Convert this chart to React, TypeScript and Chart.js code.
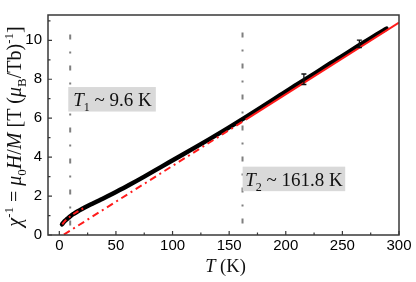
import React, { useEffect, useRef } from "react";
import { Chart, registerables } from "chart.js";
Chart.register(...registerables);

// ---- data ----
const temperature = [2.4, 3, 4, 6, 8, 10, 13, 16, 20, 25, 30, 36, 43, 50, 62, 75, 90, 106, 120, 133, 150, 165, 180, 195, 210, 225, 240, 255, 270, 280, 289];
const invChi = [0.55, 0.6, 0.67, 0.78, 0.88, 0.98, 1.1, 1.21, 1.34, 1.49, 1.63, 1.8, 2.0, 2.21, 2.58, 3.0, 3.5, 4.03, 4.5, 4.94, 5.53, 6.07, 6.62, 7.18, 7.74, 8.28, 8.84, 9.38, 9.93, 10.29, 10.6];

const lowFitT = [2.6, 5, 8, 11, 14, 17, 20, 23];
const lowFitY = [0.55, 0.72, 0.87, 1.01, 1.13, 1.23, 1.33, 1.42];

const cwExtrapT = [4, 165];
const cwExtrapY = [0.02, 5.94];
const cwFitT = [165, 300];
const cwFitY = [5.94, 10.91];

const errT = [216, 265];
const errY = [8.0, 9.82];
const errD = [0.27, 0.19];

const markerT = [9.6, 161.8];
const markerTop = [10.3, 10.4];

const labelIndex = ["1", "2"];
const labelText = [" ~ 9.6 K", " ~ 161.8 K"];
const labelAnchorT = [7.9, 161.9];
const labelAnchorY = [7.6, 3.51];

const xTickValues = [0, 50, 100, 150, 200, 250, 300];
const xMinorValues = [25, 75, 125, 175, 225, 275];
const yTickValues = [0, 2, 4, 6, 8, 10];
const yMinorValues = [1, 3, 5, 7, 9, 11];

const SERIF = '"Liberation Serif", "Times New Roman", serif';
const SANS = '"Liberation Sans", Arial, sans-serif';

type Seg = { t: string; it?: boolean; sub?: boolean; sup?: boolean };

const fontFor = (s: Seg, size: number) =>
  `${s.it ? "italic " : ""}${s.sub || s.sup ? Math.round(size * 0.65) : size}px ${SERIF}`;

function measureRich(ctx: CanvasRenderingContext2D, segs: Seg[], size: number) {
  let total = 0;
  for (const s of segs) {
    ctx.font = fontFor(s, size);
    total += ctx.measureText(s.t).width;
  }
  return total;
}

function drawRich(ctx: CanvasRenderingContext2D, segs: Seg[], x: number, y: number, size: number, align: "left" | "center") {
  const total = measureRich(ctx, segs, size);
  let cx = align === "center" ? x - total / 2 : x;
  ctx.textAlign = "left";
  ctx.textBaseline = "alphabetic";
  for (const s of segs) {
    ctx.font = fontFor(s, size);
    const dy = s.sub ? size * 0.25 : s.sup ? -size * 0.38 : 0;
    ctx.fillText(s.t, cx, y + dy);
    cx += ctx.measureText(s.t).width;
  }
  return total;
}

const overlay = {
  id: "overlay",
  beforeDatasetsDraw(chart: any) {
    const { ctx, scales } = chart;
    const x = scales.x, y = scales.y;
    ctx.save();
    ctx.strokeStyle = "#7f7f7f";
    ctx.lineWidth = 2;
    ctx.setLineDash([5, 12, 2, 12]);
    markerT.forEach((t, i) => {
      const px = x.getPixelForValue(t);
      ctx.beginPath();
      ctx.moveTo(px, y.getPixelForValue(markerTop[i]));
      ctx.lineTo(px, y.getPixelForValue(0));
      ctx.stroke();
    });
    ctx.restore();
  },
  afterDatasetsDraw(chart: any) {
    const { ctx, scales } = chart;
    const x = scales.x, y = scales.y;
    ctx.save();
    // error bars
    ctx.strokeStyle = "#111";
    ctx.lineWidth = 1.3;
    errT.forEach((t, i) => {
      const px = x.getPixelForValue(t);
      const top = y.getPixelForValue(errY[i] + errD[i]);
      const bot = y.getPixelForValue(errY[i] - errD[i]);
      ctx.beginPath();
      ctx.moveTo(px, top); ctx.lineTo(px, bot);
      ctx.moveTo(px - 2.5, top); ctx.lineTo(px + 2.5, top);
      ctx.moveTo(px - 2.5, bot); ctx.lineTo(px + 2.5, bot);
      ctx.stroke();
    });
    // label boxes
    const size = 19;
    const padL = [5, 2.5];
    const padR = [4, 2.5];
    labelIndex.forEach((idx, i) => {
      const segs: Seg[] = [{ t: "T", it: true }, { t: idx, sub: true }, { t: labelText[i] }];
      const w = measureRich(ctx, segs, size);
      const bx = x.getPixelForValue(labelAnchorT[i]);
      const by = y.getPixelForValue(labelAnchorY[i]);
      ctx.fillStyle = "#d9d9d9";
      ctx.fillRect(bx, by, w + padL[i] + padR[i], 24.5);
      ctx.fillStyle = "#111";
      drawRich(ctx, segs, bx + padL[i], by + 19.4, size, "left");
    });
    ctx.restore();
  },
  afterDraw(chart: any) {
    const { ctx, chartArea, scales } = chart;
    const x = scales.x, y = scales.y;
    const { left, right, top, bottom } = chartArea;
    ctx.save();
    ctx.strokeStyle = "#383838";
    ctx.lineWidth = 1.5;
    ctx.strokeRect(left, top, right - left, bottom - top);
    ctx.lineWidth = 1.2;
    ctx.beginPath();
    xTickValues.forEach((v) => {
      const px = x.getPixelForValue(v);
      ctx.moveTo(px, bottom); ctx.lineTo(px, bottom - 4);
    });
    xMinorValues.forEach((v) => {
      const px = x.getPixelForValue(v);
      ctx.moveTo(px, bottom); ctx.lineTo(px, bottom - 2.5);
    });
    yTickValues.forEach((v) => {
      const py = y.getPixelForValue(v);
      ctx.moveTo(left, py); ctx.lineTo(left + 4, py);
    });
    yMinorValues.forEach((v) => {
      const py = y.getPixelForValue(v);
      ctx.moveTo(left, py); ctx.lineTo(left + 2.5, py);
    });
    ctx.stroke();

    // axis titles
    ctx.fillStyle = "#111";
    drawRich(ctx, [{ t: "T", it: true }, { t: " (K)" }], 225.5, 272, 18.5, "center");

    ctx.translate(21, 126.5);
    ctx.rotate(-Math.PI / 2);
    drawRich(
      ctx,
      [
        { t: "\u03c7", it: true },
        { t: "-1", sup: true },
        { t: " = " },
        { t: "\u03bc", it: true },
        { t: "0", sub: true },
        { t: "H", it: true },
        { t: "/" },
        { t: "M", it: true },
        { t: " [T (" },
        { t: "\u03bc", it: true },
        { t: "B", sub: true },
        { t: "/Tb)" },
        { t: "-1", sup: true },
        { t: "]" },
      ],
      0,
      0,
      20,
      "center"
    );
    ctx.restore();
  },
};

export default function App() {
  const ref = useRef<HTMLCanvasElement | null>(null);
  useEffect(() => {
    document.body.style.margin = "0";
    const canvas = ref.current!;
    const pts = (xs: number[], ys: number[]) => xs.map((t, i) => ({ x: t, y: ys[i] }));
    const chart = new Chart(canvas, {
      type: "scatter",
      data: {
        datasets: [
          {
            data: pts(temperature, invChi),
            showLine: true,
            borderColor: "#000",
            borderWidth: 4.5,
            pointRadius: 0,
            borderCapStyle: "round",
            borderJoinStyle: "round",
            cubicInterpolationMode: "monotone",
            order: 3,
          } as any,
          {
            data: pts(lowFitT, lowFitY),
            showLine: true,
            borderColor: "#ff1a1a",
            borderWidth: 2,
            borderDash: [6, 3.5, 2, 3.5],
            pointRadius: 0,
            cubicInterpolationMode: "monotone",
            order: 1,
          } as any,
          {
            data: pts(cwExtrapT, cwExtrapY),
            showLine: true,
            borderColor: "#ff1a1a",
            borderWidth: 2,
            borderDash: [7, 4, 2, 4],
            pointRadius: 0,
            order: 1,
          } as any,
          {
            data: pts(cwFitT, cwFitY),
            showLine: true,
            borderColor: "#ff1a1a",
            borderWidth: 2,
            pointRadius: 0,
            order: 1,
          } as any,
        ],
      },
      options: {
        animation: false,
        responsive: false,
        devicePixelRatio: 1,
        layout: { padding: { left: 0, top: 2, right: 17, bottom: 0 } },
        plugins: { legend: { display: false }, tooltip: { enabled: false } },
        scales: {
          x: {
            type: "linear",
            min: -10,
            max: 300,
            grid: { display: false, drawTicks: false },
            border: { display: false },
            ticks: { font: { family: SANS, size: 15 }, color: "#000", padding: 2, maxRotation: 0 },
            afterBuildTicks: (s: any) => { s.ticks = xTickValues.map((v) => ({ value: v })); },
            afterFit: (s: any) => { s.height = 47; },
          },
          y: {
            type: "linear",
            min: 0,
            max: 11.3,
            grid: { display: false, drawTicks: false },
            border: { display: false },
            ticks: { font: { family: SANS, size: 15 }, color: "#000", padding: 6 },
            afterBuildTicks: (s: any) => { s.ticks = yTickValues.map((v) => ({ value: v })); },
            afterFit: (s: any) => { s.width = 48; },
          },
        },
      } as any,
      plugins: [overlay],
    });
    return () => chart.destroy();
  }, []);
  return (
    <div style={{ position: "absolute", left: 0, top: 0, width: 416, height: 282 }}>
      <canvas ref={ref} width={416} height={282} />
    </div>
  );
}
